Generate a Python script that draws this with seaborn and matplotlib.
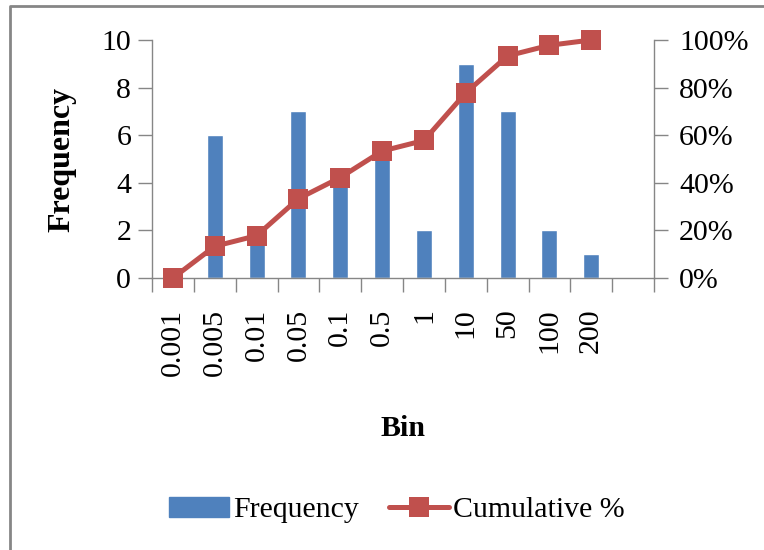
import numpy as np
import pandas as pd
import matplotlib
matplotlib.use("Agg")
import matplotlib.pyplot as plt
from matplotlib.patches import Patch
from matplotlib.lines import Line2D
from matplotlib.ticker import FuncFormatter, FixedLocator
import seaborn as sns

# Histogram bins and counts
bins = ["0.001", "0.005", "0.01", "0.05", "0.1", "0.5", "1", "10", "50", "100", "200"]
frequency = [0, 6, 2, 7, 4, 5, 2, 9, 7, 2, 1]

cumulative = np.cumsum(frequency) / np.sum(frequency)

df = pd.DataFrame({"Bin": bins, "Frequency": frequency,
                   "pos": np.arange(len(bins)), "Cumulative": cumulative})

sns.set_style("white")
plt.rcParams["font.family"] = ["Liberation Serif", "DejaVu Serif"]
plt.rcParams["text.color"] = "black"
plt.rcParams["axes.labelcolor"] = "black"
plt.rcParams["xtick.labelcolor"] = "black"
plt.rcParams["ytick.labelcolor"] = "black"

BLUE = "#4F81BD"
RED = "#C0504D"
GRAY = "#868686"
FS = 21.5

fig = plt.figure(figsize=(7.64, 5.5), dpi=100)
ax = fig.add_axes([152 / 764, 272 / 550, (654 - 152) / 764, (278 - 40) / 550])

sns.barplot(data=df, x="Bin", y="Frequency", order=bins, color=BLUE,
            width=0.38, saturation=1, ax=ax, zorder=1)

ax2 = ax.twinx()
sns.lineplot(data=df, x="pos", y="Cumulative", ax=ax2, color=RED, lw=3.6,
             marker="s", markersize=14, markeredgewidth=0, zorder=3,
             clip_on=False)

n_slots = len(bins) + 1
ax.set_xlim(-0.5, n_slots - 0.5)
ax.set_ylim(0, 10)
ax2.set_ylim(0, 1)
ax.set_zorder(1)
ax2.set_zorder(2)
ax.patch.set_visible(False)

# category labels at slot centres, tick marks at slot boundaries
ax.set_xticks(np.arange(len(bins)))
ax.set_xticklabels(bins, rotation=90, fontsize=FS)
ax.xaxis.set_minor_locator(FixedLocator(np.arange(n_slots + 1) - 0.5))
ax.tick_params(axis="x", which="major", length=0, pad=22)
ax.tick_params(axis="x", which="minor", length=10, width=1, color=GRAY,
               direction="out", bottom=True)

ax.set_yticks(range(0, 11, 2))
ax.tick_params(axis="y", length=10, width=1, color=GRAY, direction="out",
               labelsize=FS, pad=5, left=True)
ax2.set_yticks(np.arange(0, 1.01, 0.2))
ax2.yaxis.set_major_formatter(FuncFormatter(lambda v, _: f"{v * 100:.0f}%"))
ax2.tick_params(axis="y", length=10, width=1, color=GRAY, direction="out",
                labelsize=FS, pad=8, right=True)

for a in (ax, ax2):
    a.spines["top"].set_visible(False)
    for s in ("left", "right", "bottom"):
        a.spines[s].set_color(GRAY)
        a.spines[s].set_linewidth(1)
ax.spines["right"].set_visible(False)
ax2.spines["left"].set_visible(False)
ax2.spines["bottom"].set_visible(False)

ax.set_xlabel("")
ax.set_ylabel("Frequency", fontsize=23, fontweight="bold", labelpad=18)
ax2.set_ylabel("")
fig.text(403 / 764, 1 - 428 / 550, "Bin", fontsize=FS, fontweight="bold",
         ha="center", va="center")

handles = [Patch(facecolor=BLUE, edgecolor=BLUE),
           Line2D([], [], color=RED, lw=3.6, marker="s", markersize=14,
                  markeredgewidth=0)]
fig.legend(handles, ["Frequency", "Cumulative %"], loc="center",
           bbox_to_anchor=(397 / 764, 1 - 510 / 550), ncol=2, frameon=False,
           fontsize=FS, handlelength=2.0, handletextpad=0.15, columnspacing=1.0)

# chart frame (left and top edges)
x0, y0 = 10 / 764, 1 - 6 / 550
fig.add_artist(Line2D([x0, x0, 1.0], [0.0, y0, y0], transform=fig.transFigure,
                      color=GRAY, lw=2))

fig.savefig("out.png", dpi=100)
